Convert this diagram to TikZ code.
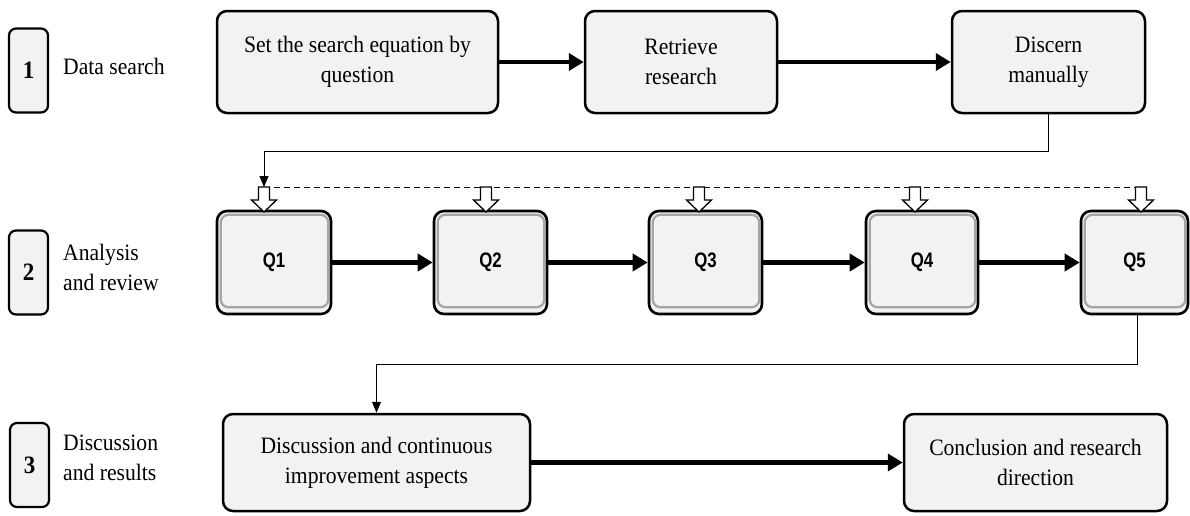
\documentclass[tikz,border=0pt]{standalone}
\usepackage{fontspec}
\setmainfont{Liberation Serif}[FakeStretch=0.92]
\newfontfamily\qfont{Liberation Sans}[FakeStretch=0.8]
\usetikzlibrary{arrows.meta,calc}
\definecolor{boxfill}{RGB}{242,242,242}
\definecolor{rimgray}{RGB}{165,165,165}
\begin{document}
\begin{tikzpicture}[x=1pt,y=-1pt,
  every node/.style={inner sep=0pt},
  stepbox/.style={draw, line width=2.2pt, rounded corners=7pt, fill=boxfill,
    minimum width=39pt, minimum height=84pt, font=\fontsize{25}{28}\selectfont\bfseries},
  steplabel/.style={anchor=west, align=left, font=\fontsize{23.5}{30}\selectfont},
  taskbox/.style={draw, line width=2.5pt, rounded corners=10pt, fill=boxfill,
    align=center, font=\fontsize{23.5}{30}\selectfont},
  qbox/.style={draw, line width=2.6pt, rounded corners=10pt, fill=boxfill,
    minimum height=103pt, text height=15pt, text depth=6pt,
    font=\qfont\fontsize{21}{24}\selectfont\bfseries},
  qrim/.style={draw=rimgray, line width=2.2pt, rounded corners=8pt},
  flow/.style={line width=4.2pt, -{Triangle[length=15pt,width=17pt]}},
  link/.style={line width=0.9pt, -{Triangle[length=11pt,width=9pt]}},
  hollow/.pic={\draw[fill=white, line width=1.3pt]
    (-5.5,0) -- (-5.5,13) -- (-12.5,13) -- (0,25) -- (12.5,13) -- (5.5,13) -- (5.5,0) -- cycle;}
]
\useasboundingbox (0,0) rectangle (1190,515);

% phase markers and their titles
\node[stepbox] (s1) at (28.5,70.5) {1};
\node[stepbox] (s2) at (28.5,272.5) {2};
\node[stepbox] (s3) at (29.5,465) {3};
\node[steplabel] (l1) at (63,66) {Data search};
\node[steplabel] (l2) at (63,267) {Analysis\\and review};
\node[steplabel] (l3) at (63,458) {Discussion\\and results};

% phase 1
\node[taskbox, minimum width=281pt, minimum height=102pt] (A) at (357.5,62)
  {Set the search equation by\\question};
\node[taskbox, minimum width=192pt, minimum height=102pt] (B) at (681,62)
  {Retrieve\\research};
\node[taskbox, minimum width=193pt, minimum height=102pt] (C) at (1048.5,62)
  {Discern\\manually};

% phase 2
\node[qbox, minimum width=114pt] (Q1) at (274,262.5) {Q1};
\node[qbox, minimum width=113pt] (Q2) at (490.5,262.5) {Q2};
\node[qbox, minimum width=113pt] (Q3) at (705.5,262.5) {Q3};
\node[qbox, minimum width=112pt] (Q4) at (922,262.5) {Q4};
\node[qbox, minimum width=107pt] (Q5) at (1134.5,262.5) {Q5};
\foreach \q in {Q1,Q2,Q3,Q4,Q5}
  \draw[qrim] ($(\q.north west)+(5,5)$) rectangle ($(\q.south east)+(-4,-8)$);

% phase 3
\node[taskbox, minimum width=307pt, minimum height=97pt] (D) at (376.5,462.5)
  {Discussion and continuous\\improvement aspects};
\node[taskbox, minimum width=263pt, minimum height=97pt] (E) at (1035.5,462.5)
  {Conclusion and research\\direction};

% main flow
\draw[flow] (A.east) -- (B.west);
\draw[flow] (B.east) -- (C.west);
\draw[flow] (Q1.east) -- (Q2.west);
\draw[flow] (Q2.east) -- (Q3.west);
\draw[flow] (Q3.east) -- (Q4.west);
\draw[flow] (Q4.east) -- (Q5.west);
\draw[flow] (D.east) -- (E.west);

% distribution bar feeding every question
\coordinate (h1) at (264,187);
\coordinate (h2) at (486,187);
\coordinate (h3) at (699,187);
\coordinate (h4) at (915,187);
\coordinate (h5) at (1141,187);
\draw[line width=0.9pt, dash pattern=on 6pt off 4pt] (h1) -- (h5);
\foreach \h in {h1,h2,h3,h4,h5}
  \pic at (\h) {hollow};

% links between phases
\draw[link] (C.south) -- ++(0,37) -| (h1);
\draw[link] ([xshift=2.5pt]Q5.south) -- ++(0,49) -| (D.north);
\end{tikzpicture}
\end{document}
